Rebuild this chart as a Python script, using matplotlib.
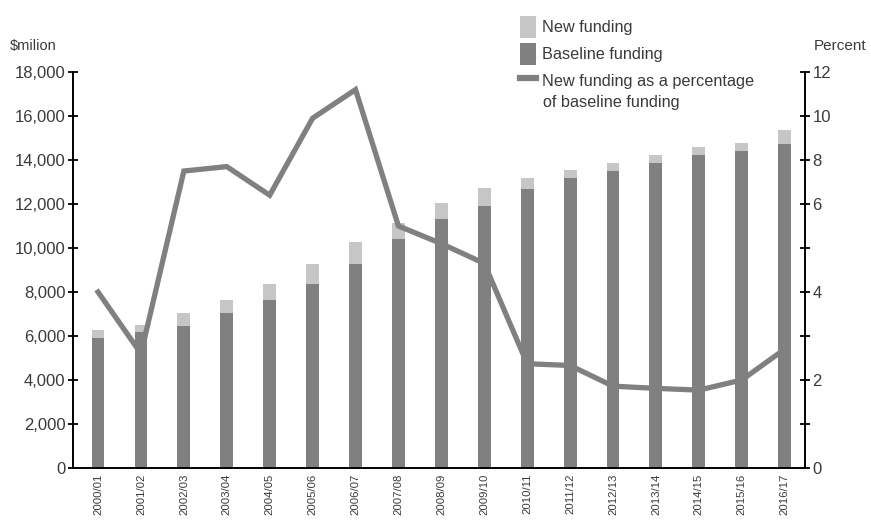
import numpy as np
import matplotlib
matplotlib.use("Agg")
from matplotlib import pyplot as plt
from matplotlib.patches import Patch
from matplotlib.lines import Line2D

years = ["2000/01", "2001/02", "2002/03", "2003/04", "2004/05", "2005/06",
         "2006/07", "2007/08", "2008/09", "2009/10", "2010/11", "2011/12",
         "2012/13", "2013/14", "2014/15", "2015/16", "2016/17"]
baseline = [5900, 6180, 6450, 7050, 7640, 8360, 9270, 10400, 11320, 11900,
            12680, 13180, 13500, 13860, 14230, 14410, 14730]
total = [6270, 6500, 7050, 7640, 8360, 9270, 10270, 11140, 12050, 12730,
         13180, 13550, 13860, 14230, 14590, 14770, 15360]
new_funding = [t - b for t, b in zip(total, baseline)]
pct = [4.0, 2.6, 7.5, 7.7, 6.4, 9.9, 11.2, 5.5, 5.1, 4.65, 2.37, 2.33,
       1.86, 1.81, 1.77, 2.0, 2.7]

dark = "#808080"
light = "#c6c6c6"
txt = "#3a3a3a"

plt.rcParams["font.family"] = ["Liberation Sans", "DejaVu Sans"]

fig = plt.figure(figsize=(8.71, 5.2), dpi=100)
ax = fig.add_axes([0.084, 0.1, 0.84, 0.7615])
x = np.arange(len(years))
ax.bar(x, baseline, width=0.3, color=dark, zorder=2)
ax.bar(x, new_funding, width=0.3, bottom=baseline, color=light, zorder=2)
ax.set_xlim(-0.58, 16.47)
ax.set_ylim(0, 18000)
ax.set_yticks(range(0, 18001, 2000))
ax.set_yticklabels([f"{v:,}" for v in range(0, 18001, 2000)])
ax.set_xticks(x)
ax.set_xticklabels(years, rotation=90, fontsize=8.2, color=txt)
ax.tick_params(axis="x", length=0, pad=4)
ax.tick_params(axis="y", direction="inout", length=7, width=1.3,
               labelsize=12, labelcolor=txt, pad=2)
for s in ["top", "right"]:
    ax.spines[s].set_visible(False)
for s in ["left", "bottom"]:
    ax.spines[s].set_linewidth(1.4)

# right axis: 0-6 at double the scale of 6-12
def fwd(y):
    y = np.asarray(y, dtype=float)
    return np.where(y <= 6, y, 6 + (y - 6) / 2)

def inv(t):
    t = np.asarray(t, dtype=float)
    return np.where(t <= 6, t, 6 + (t - 6) * 2)

ax2 = ax.twinx()
ax2.set_yscale("function", functions=(fwd, inv))
ax2.set_ylim(0, 12)
rticks = [0, 1, 2, 3, 4, 5, 6, 8, 10, 12]
ax2.set_yticks(rticks)
ax2.set_yticklabels([str(t) if t % 2 == 0 else "" for t in rticks])
ax2.yaxis.set_minor_locator(matplotlib.ticker.NullLocator())
ax2.tick_params(axis="y", direction="inout", length=7, width=1.3,
                labelsize=12, labelcolor=txt, pad=2)
for s in ["top", "left", "bottom"]:
    ax2.spines[s].set_visible(False)
ax2.spines["right"].set_linewidth(1.4)
ax2.plot(x, pct, color=dark, lw=3.8, solid_joinstyle="miter", zorder=3)

fig.text(0.011, 0.903, "\\$milion", fontsize=10.5, color=txt)
fig.text(0.934, 0.903, "Percent", fontsize=11, color=txt)

handles = [Patch(facecolor=light, edgecolor="none"),
           Patch(facecolor=dark, edgecolor="none"),
           Line2D([0], [0], color=dark, lw=4.5)]
labels = ["New funding", "Baseline funding", "New funding as a percentage"]
fig.legend(handles, labels, loc="upper left", bbox_to_anchor=(0.5897, 0.982),
           frameon=False, fontsize=11.7, labelcolor=txt, handlelength=1.0,
           handleheight=1.7, handletextpad=0.37, labelspacing=0.3,
           borderaxespad=0)
fig.text(0.6234, 0.802, "of baseline funding", fontsize=11.7, color=txt,
         va="center")

fig.savefig("out.png", dpi=100)
